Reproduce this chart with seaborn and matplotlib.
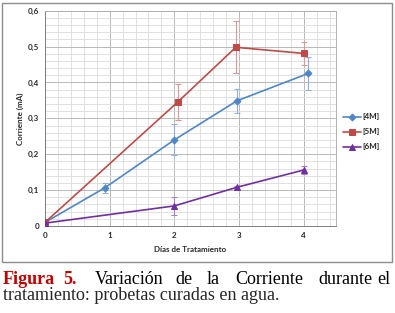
import numpy as np
import matplotlib
matplotlib.use("Agg")
import matplotlib.pyplot as plt
import seaborn as sns
from matplotlib.patches import Rectangle
from matplotlib.ticker import MultipleLocator, FuncFormatter

# datos
x_4m = [0.0, 0.93, 2.0, 2.97, 4.07]
y_4m = [0.010, 0.107, 0.240, 0.349, 0.425]
e_4m = [0.0, 0.014, 0.043, 0.033, 0.047]

x_5m = [0.0, 2.05, 2.95, 4.0]
y_5m = [0.010, 0.345, 0.498, 0.481]
e_5m = [0.0, 0.050, 0.072, 0.031]

x_6m = [0.0, 2.0, 2.97, 4.0]
y_6m = [0.008, 0.056, 0.108, 0.156]
e_6m = [0.0, 0.025, 0.004, 0.012]

series = ["[4M]", "[5M]", "[6M]"]
colores = ["#4F86C6", "#BE4B48", "#7030A0"]
colores_err = ["#8EB0DA", "#DB9896", "#A97FC9"]
marcadores = ["D", "s", "^"]

sns.set_style("white")
plt.rcParams["font.family"] = ["Lato", "DejaVu Sans"]

fig = plt.figure(figsize=(3.95, 3.13), dpi=100)
ax = fig.add_axes([45 / 395, 1 - 226 / 313, (336 - 45) / 395, (226 - 10.7) / 313])

datos = [(x_4m, y_4m, e_4m), (x_5m, y_5m, e_5m), (x_6m, y_6m, e_6m)]
for (xs, ys, es), nombre, c, ce, m in zip(datos, series, colores, colores_err, marcadores):
    ax.errorbar(xs, ys, yerr=es, fmt="none", ecolor=ce, elinewidth=0.8, capsize=2, capthick=0.8, zorder=3)
    sns.lineplot(x=xs, y=ys, ax=ax, color=c, marker=m, markersize=4 if m != "D" else 3.5,
                 markeredgecolor=c, linewidth=1.2, label=nombre, zorder=4)

ax.set_xlim(0, 4.5)
ax.set_ylim(0, 0.6)
ax.xaxis.set_major_locator(MultipleLocator(1))
ax.xaxis.set_minor_locator(MultipleLocator(0.2))
ax.yaxis.set_major_locator(MultipleLocator(0.1))
ax.yaxis.set_minor_locator(MultipleLocator(0.02))
ax.yaxis.set_major_formatter(FuncFormatter(lambda v, p: "0" if abs(v) < 1e-9 else f"{v:.1f}".replace(".", ",")))
ax.grid(which="major", color="#B8B8B8", linewidth=0.7)
ax.grid(which="minor", color="#DCDCDC", linewidth=0.6)
ax.set_axisbelow(True)
for s in ax.spines.values():
    s.set_color("#B0B0B0")
    s.set_linewidth(0.7)
ax.spines["left"].set_color("#808080")
ax.spines["bottom"].set_color("#808080")
ax.tick_params(axis="both", which="both", length=0, labelsize=5.8, pad=4)
for t in ax.get_xticklabels() + ax.get_yticklabels():
    t.set_fontweight("bold")

ax.set_xlabel("Días de Tratamiento", fontsize=5.8, fontweight="bold", labelpad=5)
ax.set_ylabel("Corriente (mA)", fontsize=5.8, fontweight="bold", labelpad=3)

leg = ax.legend(loc="center left", bbox_to_anchor=(1.0, 0.437), frameon=False,
                fontsize=5.8, handlelength=2.2, handletextpad=0.2, labelspacing=1.0)
for t in leg.get_texts():
    t.set_fontweight("bold")

# marco del grafico
fig.patches.append(Rectangle((2 / 395, 1 - 262 / 313), 390 / 395, 259 / 313,
                             transform=fig.transFigure, fill=False, edgecolor="#8C8C8C", linewidth=1.0))

# pie de figura
serif = ["Liberation Serif", "DejaVu Serif"]
y1 = 1 - 279 / 313
y2 = 1 - 295 / 313
palabras = [("Figura", 3), ("5.", 63), ("Variación", 95), ("de", 175), ("la", 207),
            ("Corriente", 235), ("durante", 318), ("el", 377)]
for i, (w, px) in enumerate(palabras):
    rojo = i < 2
    fig.text(px / 395, y1, w, family=serif, fontsize=13, va="center",
             color="#C00000" if rojo else "black", fontweight="bold" if rojo else "normal")
fig.text(3 / 395, y2, "tratamiento: probetas curadas en agua.", family=serif, fontsize=13, va="center")

fig.savefig("out.png", dpi=100)
